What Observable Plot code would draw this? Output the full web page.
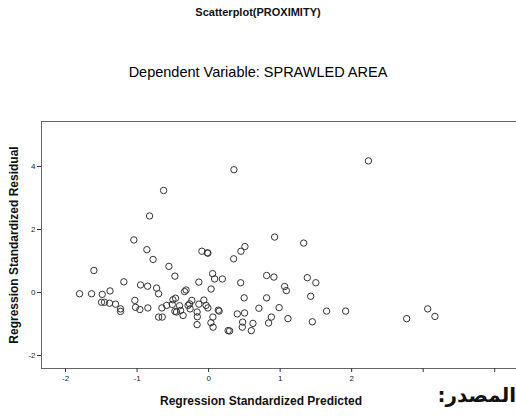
<!DOCTYPE html>
<html>
<head>
<meta charset="utf-8">
<script src="https://cdn.jsdelivr.net/npm/d3@7"></script>
<script src="https://cdn.jsdelivr.net/npm/@observablehq/plot@0.6"></script>
<style>
  html, body { margin: 0; padding: 0; background: #fff; overflow: hidden; }
  #wrap { position: relative; width: 516px; height: 416px; overflow: hidden; font-family: "Liberation Sans", Arial, sans-serif; }
  #title { position: absolute; left: 0; width: 516px; top: 6px; text-align: center; font-size: 11px; font-weight: bold; color: #111; }
  #subtitle { position: absolute; left: 0; width: 516px; top: 64px; text-align: center; font-size: 14.5px; color: #000; }
  #chart { position: absolute; left: 0; top: 100px; width: 540px; }
  #chart svg { max-width: none !important; }
  #source { position: absolute; right: 0px; top: 383px; font-family: "DejaVu Sans", sans-serif; font-size: 20px; font-weight: bold; color: #111; direction: rtl; }
</style>
</head>
<body>
<div id="wrap">
  <div id="title">Scatterplot(PROXIMITY)</div>
  <div id="subtitle">Dependent Variable: SPRAWLED AREA</div>
  <div id="chart"></div>
  <div id="source">المصدر:</div>
</div>
<script>
// Regression standardized predicted values (x)
const predicted = [
  -1.804, -1.636, -1.604, -1.487, -1.497, -1.455, -1.378, -1.385, -1.301, -1.231,
  -1.231, -1.185, -1.031, -1.021, -0.961, -0.951, -0.853, -0.849, -1.045, -0.863,
  -0.825, -0.776, -0.629, -0.727, -0.699, -0.699, -0.648, -0.653, -0.587, -0.555,
  -0.508, -0.499, -0.471, -0.462, -0.471, -0.448, -0.406, -0.392, -0.357, -0.336,
  -0.315, -0.287, -0.259, -0.266, -0.234, -0.161, -0.158, -0.161, -0.136, -0.136,
  -0.066, -0.035, -0.010, -0.094, -0.018, -0.010, 0.035, 0.056, 0.084, 0.192,
  0.032, 0.063, 0.060, 0.136, 0.147, 0.273, 0.294, 0.350, 0.354, 0.401,
  0.448, 0.452, 0.508, 0.503, 0.497, 0.476, 0.471, 0.597, 0.620, 0.703,
  0.811, 0.913, 1.063, 1.087, 0.811, 0.877, 0.839, 0.986, 1.109, 0.923,
  1.329, 1.380, 1.499, 1.427, 1.450, 1.650, 1.916, 2.234, 2.769, 3.063,
  3.164
];
// Regression standardized residual values (y)
const residual = [
  -0.04, -0.04, 0.70, -0.06, -0.31, -0.31, 0.05, -0.34, -0.37, -0.52,
  -0.60, 0.34, -0.25, -0.47, -0.54, 0.24, 0.20, -0.49, 1.67, 1.36,
  2.43, 1.05, 3.24, 0.14, -0.04, -0.78, -0.78, -0.49, -0.41, 0.83,
  -0.38, -0.23, 0.52, -0.18, -0.60, -0.62, -0.42, -0.57, -0.73, 0.03,
  0.08, -0.41, -0.52, -0.36, -0.25, -0.62, -0.77, -1.02, 0.33, -0.37,
  -0.24, -0.41, -0.49, 1.31, 1.26, 1.25, 0.11, 0.60, 0.43, 0.43,
  -0.96, -1.10, -0.78, -0.56, -0.59, -1.21, -1.22, 1.07, 3.90, -0.68,
  0.31, 1.31, 1.46, -0.65, -0.17, -0.94, -1.10, -1.21, -0.98, -0.50,
  0.54, 0.49, 0.19, 0.06, -0.17, -0.78, -0.97, -0.48, -0.83, 1.76,
  1.57, 0.47, 0.31, -0.12, -0.93, -0.59, -0.59, 4.18, -0.83, -0.52,
  -0.76
];
const xTicks = [-2, -1, 0, 1, 2, 3, 4];
const xTickLabels = ["-2", "-1", "0", "1", "2", "", ""];
const yTicks = [-2, 0, 2, 4];
const yTickLabels = ["-2", "0", "2", "4"];

const points = predicted.map((x, i) => ({x, y: residual[i]}));

const chart = Plot.plot({
  width: 540,
  height: 316,
  marginLeft: 41,
  marginTop: 21,
  marginBottom: 48,
  marginRight: 10,
  style: {fontFamily: "'Liberation Sans', Arial, sans-serif", background: "#fff", maxWidth: "none"},
  x: {domain: [-2.336, 4.5]},
  y: {domain: [-2.413, 5.43]},
  marks: [
    Plot.frame({stroke: "#666", strokeWidth: 1}),
    Plot.axisX({ticks: xTicks, tickFormat: (d) => xTickLabels[xTicks.indexOf(d)], tickSize: 4, tickPadding: 3, fontSize: 8, stroke: "#333", fill: "#222", label: null}),
    Plot.axisY({ticks: yTicks, tickFormat: (d) => yTickLabels[yTicks.indexOf(d)], tickSize: 4, tickPadding: 2, fontSize: 8, stroke: "#333", fill: "#222", label: null}),
    Plot.dot(points, {x: "x", y: "y", r: 3.2, stroke: "#333", fill: "none", strokeWidth: 1})
  ]
});

const svg = d3.select(chart);
svg.append("text")
  .attr("x", 261).attr("y", 305)
  .attr("text-anchor", "middle")
  .attr("font-size", 12).attr("font-weight", "bold").attr("fill", "#111")
  .text("Regression Standardized Predicted");
svg.append("text")
  .attr("transform", "translate(17.5,145) rotate(-90)")
  .attr("text-anchor", "middle")
  .attr("font-size", 12).attr("font-weight", "bold").attr("fill", "#111")
  .text("Regression Standardized Residual");

document.getElementById("chart").appendChild(chart);
</script>
</body>
</html>
